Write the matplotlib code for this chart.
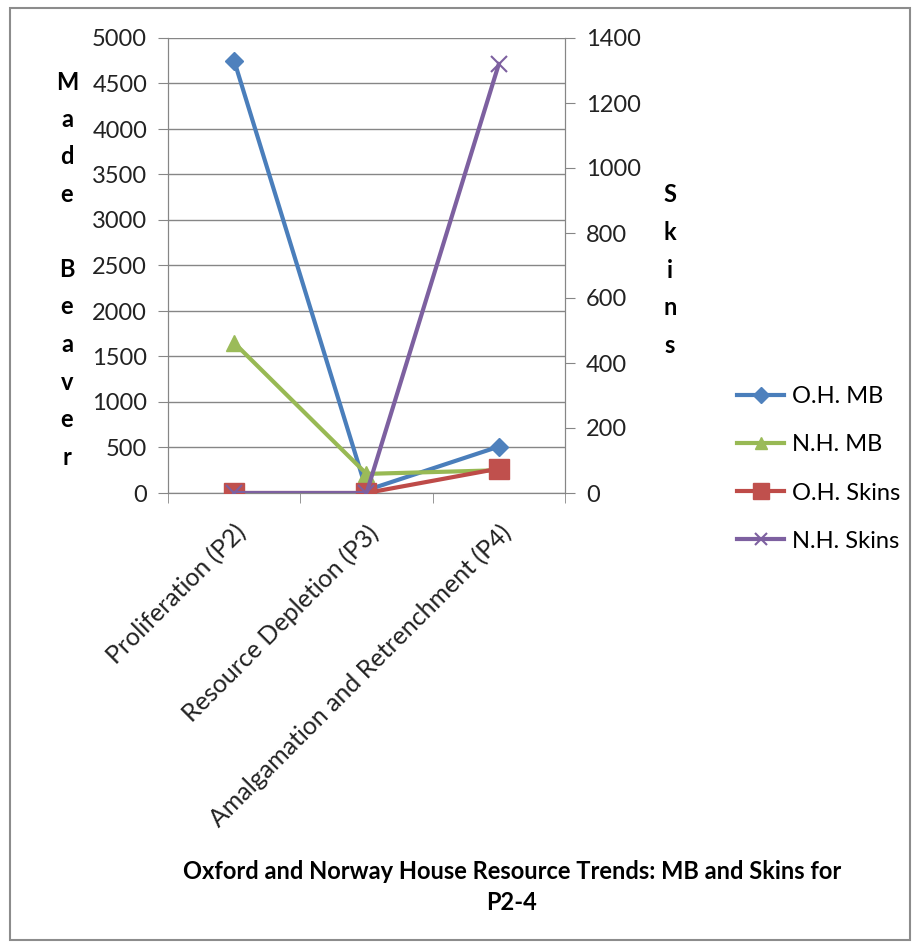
import matplotlib
matplotlib.use("Agg")
import matplotlib.pyplot as plt
from matplotlib.patches import Rectangle
from matplotlib.ticker import FixedLocator

plt.rcParams["font.family"] = ["Lato", "DejaVu Sans"]

categories = ["Proliferation (P2)", "Resource Depletion (P3)", "Amalgamation and Retrenchment (P4)"]
oh_mb = [4750, 30, 510]
nh_mb = [1650, 210, 250]
oh_skins = [0, 0, 75]
nh_skins = [0, 0, 1320]
mb_ticks = list(range(0, 5001, 500))
skin_ticks = list(range(0, 1401, 200))

W, H = 920, 946
fig = plt.figure(figsize=(W / 100, H / 100), dpi=100)
fig.patch.set_facecolor("white")

ax = fig.add_axes([168 / W, 1 - 493 / H, (565 - 168) / W, (493 - 38) / H])
ax2 = ax.twinx()

x = list(range(len(categories)))
grey = "#868686"

ax.plot(x, oh_mb, color="#4A7EBB", lw=3, marker="D", ms=9, mfc="#4F81BD", mec="#4F81BD", label="O.H. MB", zorder=3)
ax.plot(x, nh_mb, color="#98B954", lw=3, marker="^", ms=11, mfc="#9BBB59", mec="#9BBB59", label="N.H. MB", zorder=3)
ax2.plot(x, oh_skins, color="#BE4B48", lw=3, marker="s", ms=14, mfc="#C0504D", mec="#C0504D", label="O.H. Skins", zorder=3)
ax2.plot(x, nh_skins, color="#7D60A0", lw=3, marker="x", ms=11, mew=1.5, mec="#7D60A0", label="N.H. Skins", zorder=4)

ax.set_xlim(-0.5, len(categories) - 0.5)
ax.set_ylim(0, 5000)
ax2.set_ylim(0, 1400)
ax.set_yticks(mb_ticks)
ax2.set_yticks(skin_ticks)
ax.grid(axis="y", color=grey, lw=1)
ax.set_axisbelow(True)

ax.set_xticks(x)
ax.set_xticklabels(categories, rotation=45, ha="right", va="top", rotation_mode="anchor", fontsize=18, color="#222222")
ax.tick_params(axis="x", which="major", length=0, pad=20)
ax.xaxis.set_minor_locator(FixedLocator([-0.5, 0.5, 1.5, 2.5]))
ax.tick_params(axis="x", which="minor", length=7, color=grey, direction="out")
ax.tick_params(axis="y", length=7, color=grey, labelsize=17, pad=8, labelcolor="#222222")
ax2.tick_params(axis="y", length=7, color=grey, labelsize=17, pad=8, labelcolor="#222222")

for a in (ax, ax2):
    for s in a.spines.values():
        s.set_color(grey)
    a.spines["top"].set_visible(False)

# vertical axis titles, one letter per line
for i, ch in enumerate("Made Beaver"):
    fig.text(67 / W, 1 - (82 + i * 37.5) / H, ch, ha="center", va="center", fontsize=17, fontweight="bold")
for i, ch in enumerate("Skins"):
    fig.text(670 / W, 1 - (195 + i * 37.5) / H, ch, ha="center", va="center", fontsize=17, fontweight="bold")

h1, l1 = ax.get_legend_handles_labels()
h2, l2 = ax2.get_legend_handles_labels()
fig.legend(h1 + h2, l1 + l2, loc="upper left", bbox_to_anchor=(716 / W, 1 - 365 / H),
           frameon=False, fontsize=17, numpoints=1, handlelength=2.0, handletextpad=0.3,
           labelspacing=1.15, markerscale=0.85)

fig.text(512 / W, 1 - 887 / H, "Oxford and Norway House Resource Trends: MB and Skins for\nP2-4",
         ha="center", va="center", fontsize=17, fontweight="bold", linespacing=1.45)

fig.patches.append(Rectangle((10 / W, 1 - 940 / H), 900 / W, 932 / H, transform=fig.transFigure,
                             fill=False, edgecolor="#8c8c8c", lw=1.5))

fig.savefig("out.png", dpi=100)
